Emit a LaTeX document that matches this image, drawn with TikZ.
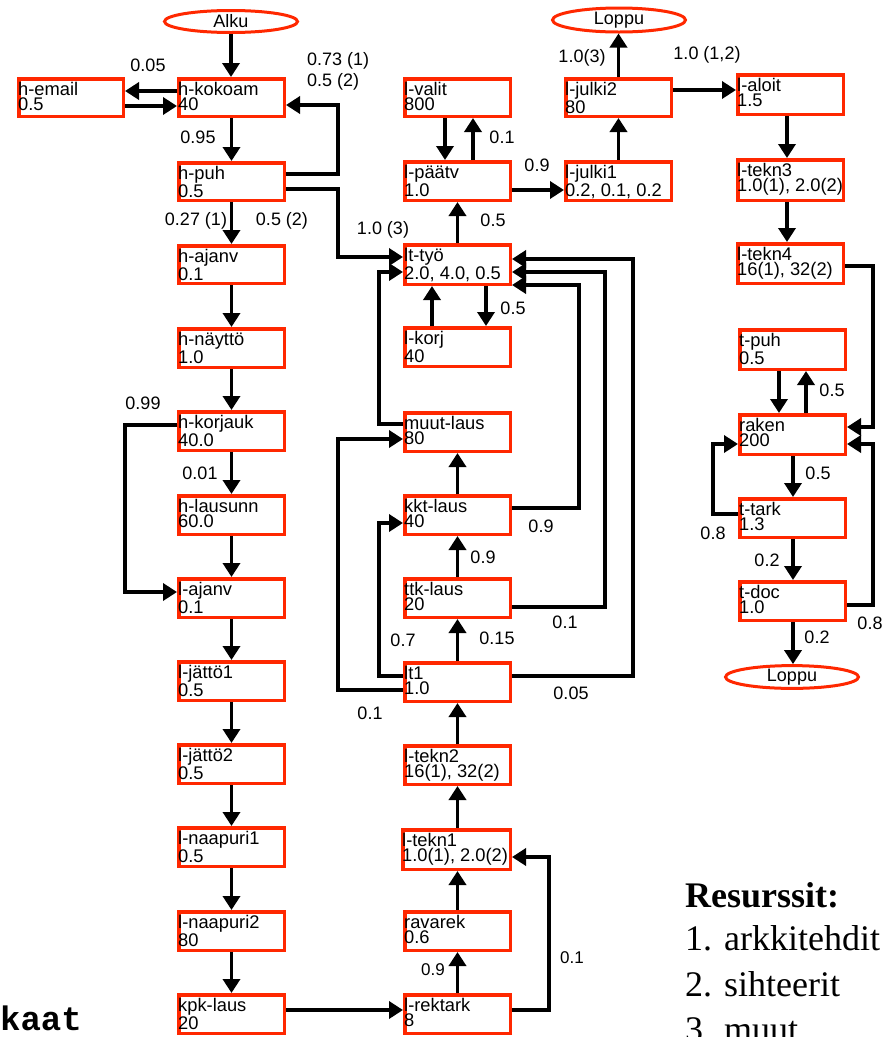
\documentclass[tikz,border=0pt]{standalone}
\usepackage{fontspec}
\setmainfont{Liberation Sans}
\newfontfamily\resfont{Liberation Serif}
\newfontfamily\kaatfont{Liberation Mono}
\usetikzlibrary{arrows.meta,shapes.geometric}
\definecolor{boxred}{RGB}{255,40,0}
\newcommand\mkbox[7]{%
  \node[box,minimum width={#4-#2-3.5},minimum height={#5-#3-3.5}] (#1) at ({(#2+#4)/2},{(#3+#5)/2}) {};
  \node[btxt] (#1-t) at (#2+1,#3+4.5) {\rule{0pt}{14pt}#6\\#7};}
\begin{document}
\begin{tikzpicture}[x=1pt,y=-1pt,
  box/.style={draw=boxred,line width=3.5pt,fill=white,rectangle,inner sep=0pt},
  btxt/.style={anchor=north west,align=left,inner sep=0pt,font=\fontsize{18.3}{14.5}\selectfont},
  term/.style={draw=boxred,line width=3pt,ellipse,inner sep=0pt,minimum width=133pt,minimum height=22pt,font=\fontsize{18}{20}\selectfont},
  conn/.style={line width=3.6pt,-{Triangle[length=14pt,width=17pt]}},
  lbl/.style={inner sep=0pt,font=\fontsize{18}{20}\selectfont}]
\useasboundingbox[fill=white] (0,0) rectangle (884,1037);

% terminals
\node[term] (alku) at (231,21.5) {Alku};
\node[term,minimum height=24pt] (loppu1) at (619,20) {Loppu};
\node[term] (loppu2) at (792,677) {Loppu};

% left column
\mkbox{hemail}{17}{77}{125}{118}{h-email}{0.5}
\mkbox{hkokoam}{177}{77}{286}{118}{h-kokoam}{40}
\mkbox{hpuh}{177}{161}{286}{202}{h-puh}{0.5}
\mkbox{hajanv}{177}{244}{286}{285}{h-ajanv}{0.1}
\mkbox{hnaytto}{177}{327}{286}{369}{h-näyttö}{1.0}
\mkbox{hkorjauk}{177}{410}{286}{452}{h-korjauk}{40.0}
\mkbox{hlausunn}{177}{494}{286}{536}{h-lausunn}{60.0}
\mkbox{lajanv}{177}{577}{286}{619}{l-ajanv}{0.1}
\mkbox{ljatto1}{177}{660}{286}{702}{l-jättö1}{0.5}
\mkbox{ljatto2}{177}{743}{286}{785}{l-jättö2}{0.5}
\mkbox{lnaapuri1}{177}{826}{286}{868}{l-naapuri1}{0.5}
\mkbox{lnaapuri2}{177}{910}{286}{952}{l-naapuri2}{80}
\mkbox{kpklaus}{177}{993}{286}{1035}{kpk-laus}{20}

% middle column
\mkbox{lvalit}{403}{77}{512}{118}{l-valit}{800}
\mkbox{lpaatv}{403}{160}{512}{202}{l-päätv}{1.0}
\mkbox{lttyo}{403}{243}{512}{286}{lt-työ}{2.0, 4.0, 0.5}
\mkbox{lkorj}{403}{326}{512}{368}{l-korj}{40}
\mkbox{muutlaus}{403}{411}{512}{453}{muut-laus}{80}
\mkbox{kktlaus}{403}{494}{512}{536}{kkt-laus}{40}
\mkbox{ttklaus}{403}{577}{512}{619}{ttk-laus}{20}
\mkbox{lt}{403}{661}{512}{703}{lt1}{1.0}
\mkbox{ltekn2}{403}{744}{512}{786}{l-tekn2}{16(1), 32(2)}
\mkbox{ltekn1}{401}{828}{512}{871}{l-tekn1}{1.0(1), 2.0(2)}
\mkbox{ravarek}{403}{910}{512}{952}{ravarek}{0.6}
\mkbox{lrektark}{403}{993}{512}{1035}{l-rektark}{8}

% right-middle column
\mkbox{ljulki2}{564}{77}{673}{118}{l-julki2}{80}
\mkbox{ljulki1}{564}{160}{673}{202}{l-julki1}{0.2, 0.1, 0.2}

% right column
\mkbox{laloit}{736}{73}{845}{116}{l-aloit}{1.5}
\mkbox{ltekn3}{736}{158}{845}{202}{l-tekn3}{1.0(1), 2.0(2)}
\mkbox{ltekn4}{736}{242}{845}{285}{l-tekn4}{16(1), 32(2)}
\mkbox{tpuh}{738}{328}{847}{371}{t-puh}{0.5}
\mkbox{raken}{738}{413}{847}{456}{raken}{200}
\mkbox{ttark}{738}{497}{847}{539}{t-tark}{1.3}
\mkbox{tdoc}{738}{580}{847}{622}{t-doc}{1.0}

% connectors, left column
\draw[conn] (alku.south) -- (alku.south |- hkokoam.north);
\draw[conn] (hkokoam.west |- 0,91) -- (hemail.east |- 0,91);
\draw[conn] (hemail.east |- 0,106) -- (hkokoam.west |- 0,106);
\draw[conn] (hkokoam.south) -- (hpuh.north);
\draw[conn] (hpuh.east |- 0,174) -| (338,105) -- (hkokoam.east |- 0,105);
\draw[conn] (hpuh.east |- 0,189) -| (338,257) -- (lttyo.west |- 0,257);
\draw[conn] (hpuh.south) -- (hajanv.north);
\draw[conn] (hajanv.south) -- (hnaytto.north);
\draw[conn] (hnaytto.south) -- (hkorjauk.north);
\draw[conn] (hkorjauk.south) -- (hlausunn.north);
\draw[conn] (hkorjauk.west |- 0,425) -| (125,592) -- (lajanv.west |- 0,592);
\draw[conn] (hlausunn.south) -- (lajanv.north);
\draw[conn] (lajanv.south) -- (ljatto1.north);
\draw[conn] (ljatto1.south) -- (ljatto2.north);
\draw[conn] (ljatto2.south) -- (lnaapuri1.north);
\draw[conn] (lnaapuri1.south) -- (lnaapuri2.north);
\draw[conn] (lnaapuri2.south) -- (kpklaus.north);
\draw[conn] (kpklaus.east |- 0,1010) -- (lrektark.west |- 0,1010);

% middle column
\draw[conn] (lrektark.north) -- (ravarek.south);
\draw[conn] (lrektark.east |- 0,1010) -| (549,857) -- (ltekn1.east |- 0,857);
\draw[conn] (ravarek.north -| lrektark.north) -- (ltekn1.south -| lrektark.north);
\draw[conn] (ltekn1.north -| lrektark.north) -- (ltekn2.south);
\draw[conn] (ltekn2.north) -- (lt.south);
\draw[conn] (lt.north) -- (ttklaus.south);
\draw[conn] (ttklaus.north) -- (kktlaus.south);
\draw[conn] (kktlaus.north) -- (muutlaus.south);
\draw[conn] (lt.west |- 0,676) -| (379,523) -- (kktlaus.west |- 0,523);
\draw[conn] (lt.west |- 0,690) -| (338,439) -- (muutlaus.west |- 0,439);
\draw[conn] (muutlaus.west |- 0,424) -| (379,272) -- (lttyo.west |- 0,272);
\draw[conn] (lt.east |- 0,676) -| (633,259) -- (lttyo.east |- 0,259);
\draw[conn] (ttklaus.east |- 0,607) -| (605,272) -- (lttyo.east |- 0,272);
\draw[conn] (kktlaus.east |- 0,508) -| (579,285) -- (lttyo.east |- 0,285);
\draw[conn] (lttyo.south -| 486,0) -- (lkorj.north -| 486,0);
\draw[conn] (lkorj.north -| 432,0) -- (lttyo.south -| 432,0);
\draw[conn] (lttyo.north) -- (lpaatv.south);
\draw[conn] (lvalit.south -| 445,0) -- (lpaatv.north -| 445,0);
\draw[conn] (lpaatv.north -| 473,0) -- (lvalit.south -| 473,0);
\draw[conn] (lpaatv.east |- 0,190) -- (ljulki1.west |- 0,190);
\draw[conn] (ljulki1.north) -- (ljulki2.south);
\draw[conn] (ljulki2.north) -- (ljulki2.north |- loppu1.south);
\draw[conn] (ljulki2.east |- 0,90) -- (laloit.west |- 0,90);

% right column
\draw[conn] (laloit.south -| 787,0) -- (ltekn3.north -| 787,0);
\draw[conn] (ltekn3.south -| 787,0) -- (ltekn4.north -| 787,0);
\draw[conn] (ltekn4.east |- 0,266) -| (873,427) -- (raken.east |- 0,427);
\draw[conn] (tpuh.south -| 779,0) -- (raken.north -| 779,0);
\draw[conn] (raken.north -| 806,0) -- (tpuh.south -| 806,0);
\draw[conn] (raken.south -| 793,0) -- (ttark.north -| 793,0);
\draw[conn] (ttark.west |- 0,514) -| (713,444) -- (raken.west |- 0,444);
\draw[conn] (ttark.south -| 793,0) -- (tdoc.north -| 793,0);
\draw[conn] (tdoc.east |- 0,605) -| (873,444) -- (raken.east |- 0,444);
\draw[conn] (tdoc.south -| 793,0) -- (loppu2.north -| 793,0);

% labels
\node[lbl] (l1) at (148,65) {0.05};
\node[lbl,anchor=west] (l2) at (307,61) {0.73 (1)};
\node[lbl,anchor=west] (l3) at (307,82) {0.5 (2)};
\node[lbl] (l4) at (198,137) {0.95};
\node[lbl] (l5) at (196,221) {0.27 (1)};
\node[lbl] (l6) at (282,221) {0.5 (2)};
\node[lbl] (l7) at (383,230) {1.0 (3)};
\node[lbl] (l8) at (143,403) {0.99};
\node[lbl] (l9) at (200,473) {0.01};
\node[lbl] (l10) at (493,220) {0.5};
\node[lbl] (l11) at (502,137) {0.1};
\node[lbl] (l12) at (537,165) {0.9};
\node[lbl] (l13) at (582,58) {1.0(3)};
\node[lbl] (l14) at (707,55) {1.0 (1,2)};
\node[lbl] (l15) at (513,308) {0.5};
\node[lbl] (l16) at (541,526) {0.9};
\node[lbl] (l17) at (483,557) {0.9};
\node[lbl] (l18) at (565,622) {0.1};
\node[lbl] (l19) at (403,640) {0.7};
\node[lbl] (l20) at (497,638) {0.15};
\node[lbl] (l21) at (571,693) {0.05};
\node[lbl] (l22) at (370,713) {0.1};
\node[lbl,font=\fontsize{17}{19}\selectfont] (l23) at (433,970) {0.9};
\node[lbl,font=\fontsize{17}{19}\selectfont] (l24) at (572,958) {0.1};
\node[lbl] (l25) at (832,390) {0.5};
\node[lbl] (l26) at (818,473) {0.5};
\node[lbl] (l27) at (713,533) {0.8};
\node[lbl] (l28) at (767,560) {0.2};
\node[lbl] (l29) at (870,623) {0.8};
\node[lbl] (l30) at (817,637) {0.2};

% resources
\node[inner sep=0pt,anchor=base west,font=\resfont\bfseries\fontsize{36}{43}\selectfont] (res0) at (685,907) {Resurssit:};
\node[inner sep=0pt,anchor=base west,font=\resfont\fontsize{36}{43}\selectfont] (res1) at (685,950) {1. arkkitehdit};
\node[inner sep=0pt,anchor=base west,font=\resfont\fontsize{36}{43}\selectfont] (res2) at (685,996) {2. sihteerit};
\node[inner sep=0pt,anchor=base west,font=\resfont\fontsize{36}{43}\selectfont] (res3) at (685,1041) {3. muut};
\node[inner sep=0pt,anchor=base east,font=\kaatfont\bfseries\fontsize{34}{40}\selectfont] (kaat) at (82,1030) {kaat};
\end{tikzpicture}
\end{document}
